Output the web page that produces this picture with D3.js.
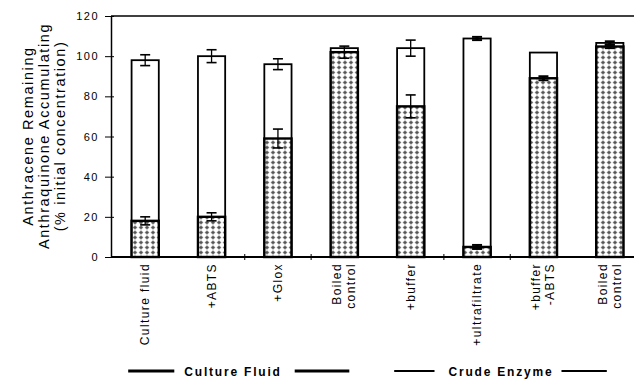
<!DOCTYPE html>
<html><head><meta charset="utf-8">
<script src="https://cdn.jsdelivr.net/npm/d3@7"></script>
<style>body{margin:0;background:#fff;}svg{display:block;}</style>
</head><body>
<script>
const categories = ["c1","c2","c3","c4","c5","c6","c7","c8"];
const labelLines = [["Culture fluid"],["+ABTS"],["+Glox"],["Boiled","control"],["+buffer"],["+ultrafiltrate"],["+buffer","-ABTS"],["Boiled","control"]];
const anthracene = [18, 20, 59, 102, 75, 5, 89, 104.8];
const anthraceneErr = [2, 2, 4.7, 3, 5.7, 1, 1, 0.8];
const total = [98, 100, 96, 104, 104, 108.8, 101.8, 106.6];
const totalErr = [2.7, 3.2, 2.7, 0, 4, 0.8, 0, 0.8];
const yTicks = [0, 20, 40, 60, 80, 100, 120];
const groups = [{name:"Culture Fluid", from:0, to:3}, {name:"Crude Enzyme", from:4, to:7}];
const titleLines = ["Anthracene Remaining","Anthraquinone Accumulating","(% initial concentration)"];

const W = 634, H = 383;
const FONT = "Arial, 'Liberation Sans', sans-serif";
const svg = d3.select("body").append("svg").attr("width", W).attr("height", H);
const defs = svg.append("defs");
const pat = defs.append("pattern").attr("id","hatch").attr("patternUnits","userSpaceOnUse")
  .attr("width",6).attr("height",5);
pat.append("rect").attr("width",6).attr("height",5).attr("fill","#fff");
pat.append("path").attr("d","M3,0.2 L5.4,2.5 L3,4.8 L0.6,2.5 Z").attr("fill","#7a7a7a");
pat.append("rect").attr("x",2.3).attr("y",1.8).attr("width",1.4).attr("height",1.4).attr("fill","#444");

const x = d3.scaleBand().domain(categories).range([112, 643]).paddingInner(0.59).paddingOuter(0.295);
const y = d3.scaleLinear().domain([0,120]).range([257, 16]);
const bw = x.bandwidth();

// frame top line
svg.append("line").attr("x1",111).attr("x2",634).attr("y1",y(120)).attr("y2",y(120)).attr("stroke","#000").attr("stroke-width",1.5);
// y axis
const yAxis = svg.append("g").attr("transform","translate(111,0)")
  .call(d3.axisLeft(y).tickValues(yTicks).tickSize(0).tickPadding(12));
yAxis.select(".domain").attr("stroke","#000").attr("stroke-width",1.5);
yAxis.selectAll(".tick text").attr("font-family",FONT).attr("font-size",11)
  .attr("letter-spacing",1.5).attr("fill","#000");
yAxis.selectAll(".tick").append("line").attr("x1",-6).attr("x2",3).attr("stroke","#000").attr("stroke-width",1);

// bars
const bars = svg.append("g");
categories.forEach((c,i)=>{
  const x0 = x(c);
  bars.append("rect").attr("x",x0).attr("y",y(total[i])).attr("width",bw).attr("height",y(0)-y(total[i]))
    .attr("fill","#fff").attr("stroke","#000").attr("stroke-width",1.8);
  bars.append("rect").attr("x",x0).attr("y",y(anthracene[i])).attr("width",bw).attr("height",y(0)-y(anthracene[i]))
    .attr("fill","url(#hatch)").attr("stroke","#000").attr("stroke-width",2.4);
});
// error bars
function errBar(cx, v, e){
  if(!e) return;
  const g = svg.append("g").attr("stroke","#000");
  const t = y(v+e), b = y(v-e);
  const thick = e < 1.2;
  g.append("line").attr("x1",cx).attr("x2",cx).attr("y1",t).attr("y2",b).attr("stroke-width",thick?3:1.3);
  g.append("line").attr("x1",cx-5).attr("x2",cx+5).attr("y1",t).attr("y2",t).attr("stroke-width",thick?2:1.6);
  g.append("line").attr("x1",cx-5).attr("x2",cx+5).attr("y1",b).attr("y2",b).attr("stroke-width",thick?2:1.6);
}
categories.forEach((c,i)=>{
  const cx = x(c)+bw/2;
  errBar(cx, total[i], totalErr[i]);
  errBar(cx, anthracene[i], anthraceneErr[i]);
});

// x axis
const xAxis = svg.append("g").attr("transform",`translate(0,${y(0)})`);
xAxis.append("line").attr("x1",111).attr("x2",634).attr("stroke","#000").attr("stroke-width",2.2);
[1,2,4,5].forEach(k=>{
  const bx = x(categories[k]) + bw + (x.step()-bw)/2;
  xAxis.append("line").attr("x1",bx).attr("x2",bx).attr("y1",-3).attr("y2",3).attr("stroke","#000").attr("stroke-width",1);
});
categories.forEach((c,i)=>{
  const cx = x(c)+bw/2;
  const lines = labelLines[i];
  lines.forEach((ln,j)=>{
    const off = (j - (lines.length-1)/2) * 14;
    svg.append("text").attr("transform",`translate(${cx+off+4},${y(0)+6}) rotate(-90)`)
      .attr("text-anchor","end").attr("font-family",FONT)
      .attr("font-size",12).attr("letter-spacing",1.4).attr("fill","#000").text(ln);
  });
});

// y title
titleLines.forEach((t,j)=>{
  svg.append("text").attr("transform",`translate(${33+j*16},136) rotate(-90)`)
    .attr("text-anchor","middle").attr("font-family",FONT)
    .attr("font-size", 14.5).attr("letter-spacing", 1.6).attr("fill","#000").text(t);
});

// group labels
const grpOff = [[-17, 5, 10, 13], [-16.5, -3, 14, 8]];
groups.forEach((g,gi)=>{
  const o = grpOff[gi];
  const a = x(categories[g.from]) + bw/2 + o[0];
  const b = x(categories[g.to]) + bw/2 + o[1];
  const mid = gi===0 ? 233 : 501;
  const txt = svg.append("text").attr("x",mid).attr("y",376).attr("text-anchor","middle")
    .attr("font-family",FONT).attr("font-weight","bold")
    .attr("font-size",12).attr("letter-spacing",1.8).attr("fill","#000").text(g.name);
  const tw = txt.node().getComputedTextLength();
  const sw = gi===0?3:2;
  svg.append("line").attr("x1",a).attr("x2",mid-tw/2-o[2]).attr("y1",371).attr("y2",371).attr("stroke","#000").attr("stroke-width",sw);
  svg.append("line").attr("x1",mid+tw/2+o[3]).attr("x2",b).attr("y1",371).attr("y2",371).attr("stroke","#000").attr("stroke-width",sw);
});
</script>
</body></html>
